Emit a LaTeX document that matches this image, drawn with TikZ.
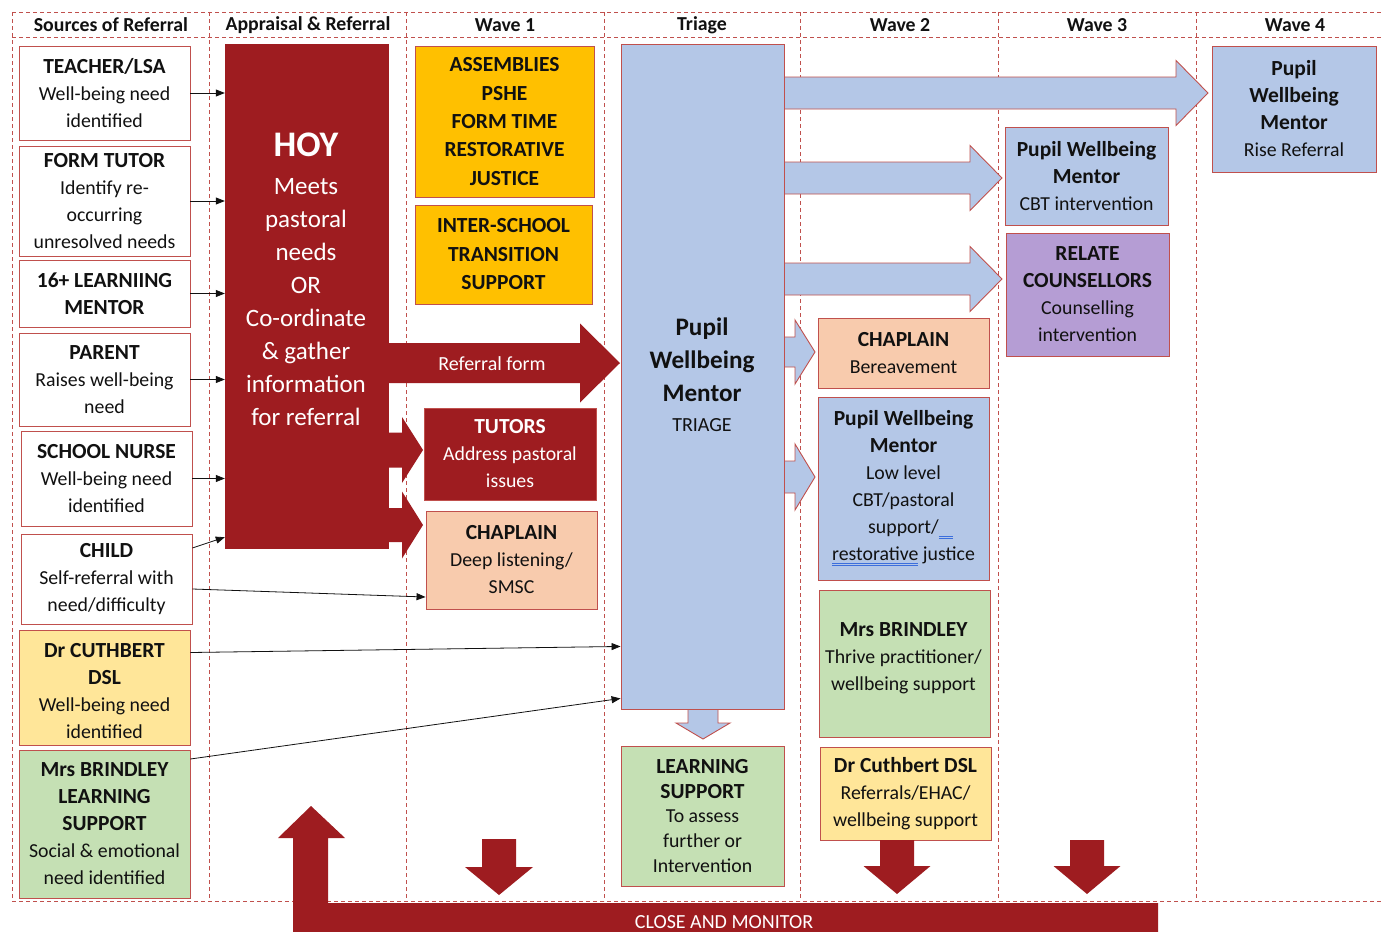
\documentclass[tikz,border=0pt]{standalone}
\usepackage{fontspec}
\setmainfont{Carlito}
\usetikzlibrary{arrows.meta,calc}
\definecolor{hoyred}{RGB}{158,28,32}
\definecolor{bord}{RGB}{192,80,77}
\definecolor{pblue}{RGB}{180,199,231}
\definecolor{peach}{RGB}{248,203,173}
\definecolor{orng}{RGB}{255,192,0}
\definecolor{ylw}{RGB}{255,230,153}
\definecolor{grn}{RGB}{197,224,180}
\definecolor{purp}{RGB}{181,157,212}
\definecolor{ulblue}{RGB}{60,110,220}
\definecolor{ink}{RGB}{17,17,17}
\newlength\dulen
\newcommand\dul[1]{\settowidth\dulen{#1}\rlap{\textcolor{ulblue}{\rule[-2.5pt]{\dulen}{0.7pt}}}\rlap{\textcolor{ulblue}{\rule[-4.7pt]{\dulen}{0.7pt}}}#1}
\newcommand\hb[1]{{\fontsize{21.5}{27}\selectfont\bfseries #1}}
% right block arrow: style, x0, xhead, xtip, yc, body half, head half
\newcommand\rblock[7]{\path[#1] (#2,{#5-#6}) -- (#3,{#5-#6}) -- (#3,{#5-#7}) -- (#4,#5) -- (#3,{#5+#7}) -- (#3,{#5+#6}) -- (#2,{#5+#6});}
% down block arrow: style, xc, ytop, yhead, ytip, body half, head half
\newcommand\dblock[7]{\path[#1] ({#2-#6},#3) -- ({#2-#6},#4) -- ({#2-#7},#4) -- (#2,#5) -- ({#2+#7},#4) -- ({#2+#6},#4) -- ({#2+#6},#3) -- cycle;}
\begin{document}
\begin{tikzpicture}[x=1pt,y=-1pt,
  box/.style={draw=bord, line width=0.9pt, align=center, inner sep=0pt, font=\fontsize{19.8}{27}\selectfont, text=ink},
  txt/.style={align=center, inner sep=0pt, font=\fontsize{19.8}{27}\selectfont, text=ink},
  hdr/.style={font=\fontsize{19.8}{22}\selectfont\bfseries, text=ink, inner sep=0pt},
  dashln/.style={draw=bord, line width=1pt, dash pattern=on 4pt off 3pt},
  conn/.style={draw=ink, line width=0.8pt, -{Triangle[length=9pt,width=7pt]}},
  bluearr/.style={fill=pblue, draw=bord, line width=0.9pt},
  redarr/.style={fill=hoyred}]
\useasboundingbox (0,0) rectangle (1382,932);
\fill[white] (0,0) rectangle (1382,932);

% frame
\draw[dashln] (12,12) -- (1382,12);
\draw[dashln] (12,37) -- (1382,37);
\draw[dashln] (12,901) -- (1382,901);
\foreach \x in {12,209,406,604,800,998,1196} \draw[dashln] (\x,12) -- (\x,901);

% headers
\node[hdr] (h1) at (111,25) {Sources of Referral};
\node[hdr] (h2) at (308,25) {Appraisal \& Referral};
\node[hdr] (h3) at (505,25) {Wave 1};
\node[hdr] (h4) at (702,25) {Triage};
\node[hdr] (h5) at (900,25) {Wave 2};
\node[hdr] (h6) at (1097,25) {Wave 3};
\node[hdr] (h7) at (1295,25) {Wave 4};

% sources
\node[box, fill=white, minimum width=171pt, minimum height=94pt] (teacher) at (104.5,93) {\hb{TEACHER/LSA}\\Well-being need\\identified};
\node[box, fill=white, minimum width=171pt, minimum height=110pt] (formtutor) at (104.5,201) {\hb{FORM TUTOR}\\Identify re-\\occurring\\unresolved needs};
\node[box, fill=white, minimum width=171pt, minimum height=67pt] (lm) at (104.5,293.5) {\hb{16+ LEARNIING}\\\hb{MENTOR}};
\node[box, fill=white, minimum width=171pt, minimum height=93pt] (parent) at (104.5,379.5) {\hb{PARENT}\\Raises well-being\\need};
\node[box, fill=white, minimum width=171pt, minimum height=95pt] (nurse) at (106.5,478.5) {\hb{SCHOOL NURSE}\\Well-being need\\identified};
\node[box, fill=white, minimum width=171pt, minimum height=90pt] (child) at (106.5,579) {\hb{CHILD}\\Self-referral with\\need/difficulty};
\node[box, fill=ylw, minimum width=171pt, minimum height=115pt] (cuth) at (104.5,687.5) {};
\node[txt] (cutht) at (104.5,691) {\hb{Dr CUTHBERT}\\\hb{DSL}\\Well-being need\\identified};
\node[box, fill=grn, minimum width=171pt, minimum height=148pt] (brin) at (104.5,824) {\hb{Mrs BRINDLEY}\\\hb{LEARNING}\\\hb{SUPPORT}\\Social \& emotional\\need identified};

% HOY and its arrows
\node[fill=hoyred, minimum width=164pt, minimum height=505pt, inner sep=0pt] (hoy) at (307,296.5) {};
\node[align=center, text=white, inner sep=0pt, font=\fontsize{25}{33}\selectfont] (hoytext) at (306,279) {{\fontsize{36}{38}\selectfont\bfseries HOY}\\[5pt]Meets\\pastoral\\needs\\OR\\Co-ordinate\\\& gather\\information\\for referral};
\rblock{redarr}{388}{580}{620}{363}{20}{39.5}
\node[text=white, font=\fontsize{20}{22}\selectfont, inner sep=0pt] (reflabel) at (492,364) {Referral form};
\rblock{redarr}{388}{402}{423}{450}{17.5}{33}
\rblock{redarr}{388}{402}{423}{525}{17}{33.5}

% wave 1
\node[box, fill=orng, minimum width=179pt, minimum height=151pt, font=\fontsize{21.5}{28.3}\selectfont\bfseries] (assem) at (504.5,121.5) {ASSEMBLIES\\PSHE\\FORM TIME\\RESTORATIVE\\JUSTICE};
\node[box, fill=orng, minimum width=177pt, minimum height=99pt, font=\fontsize{21.5}{28.5}\selectfont\bfseries] (inter) at (503.5,254.5) {INTER-SCHOOL\\TRANSITION\\SUPPORT};
\node[box, fill=hoyred, text=white, minimum width=172pt, minimum height=92pt] (tutors) at (510,454) {\hb{TUTORS}\\Address pastoral\\issues};
\node[box, fill=peach, minimum width=171pt, minimum height=98pt] (chap1) at (511.5,560) {\hb{CHAPLAIN}\\Deep listening/\\SMSC};

% triage
\rblock{bluearr}{784}{1176}{1208}{93}{16}{32.5}
\rblock{bluearr}{784}{970}{1002}{178}{16}{32.5}
\rblock{bluearr}{784}{970}{1002}{279}{16}{32.5}
\rblock{bluearr}{784}{795}{815}{352}{15}{32}
\rblock{bluearr}{784}{795}{815}{477}{16}{33}
\path[bluearr] (688,709) -- (688,723) -- (676,723) -- (703,739) -- (730,723) -- (718,723) -- (718,709);
\node[box, fill=pblue, minimum width=163pt, minimum height=665pt] (triage) at (702.5,376.5) {};
\node[align=center, text=ink, inner sep=0pt, font=\fontsize{25.2}{33}\selectfont\bfseries] (triagetext) at (702,375) {Pupil\\Wellbeing\\Mentor\\[-3pt]{\fontsize{20}{22}\selectfont\mdseries TRIAGE}};
\node[box, fill=grn, minimum width=163pt, minimum height=140pt, font=\fontsize{19.8}{24.8}\selectfont] (lsup) at (702.5,816) {\hb{LEARNING}\\\hb{SUPPORT}\\To assess\\further or\\Intervention};

% wave 2
\node[box, fill=peach, minimum width=171pt, minimum height=70pt] (chap2) at (903.5,353) {\hb{CHAPLAIN}\\Bereavement};
\node[box, fill=pblue, minimum width=171pt, minimum height=183pt] (pwm2) at (903.5,488.5) {};
\node[txt] (pwm2t) at (903.5,488) {\hb{Pupil Wellbeing}\\\hb{Mentor}\\Low level\\CBT/pastoral\\support/\dul{\hspace{14pt}}\\\dul{restorative} justice};
\node[box, fill=grn, minimum width=171pt, minimum height=147pt] (brin2) at (904.5,663.5) {};
\node[txt] (brin2t) at (903.5,658) {\hb{Mrs BRINDLEY}\\Thrive practitioner/\\wellbeing support};
\node[box, fill=ylw, minimum width=171pt, minimum height=93pt] (cuth2) at (905.5,793.5) {\hb{Dr Cuthbert DSL}\\Referrals/EHAC/\\wellbeing support};

% wave 3 and 4
\node[box, fill=pblue, minimum width=163pt, minimum height=98pt] (pwm3) at (1086.5,176) {\hb{Pupil Wellbeing}\\\hb{Mentor}\\CBT intervention};
\node[box, fill=purp, minimum width=163pt, minimum height=123pt] (relate) at (1087.5,294.5) {\hb{RELATE}\\\hb{COUNSELLORS}\\Counselling\\intervention};
\node[box, fill=pblue, minimum width=164pt, minimum height=126pt] (pwm4) at (1294,109) {\hb{Pupil}\\\hb{Wellbeing}\\\hb{Mentor}\\Rise Referral};

% close and monitor
\dblock{redarr}{499}{839}{867}{895}{17}{34}
\dblock{redarr}{897}{840}{866}{894}{17}{33.5}
\dblock{redarr}{1087}{840}{866}{894}{17}{33.5}
\fill[hoyred] (293,932) -- (293,838) -- (278,838) -- (311,806) -- (345,838) -- (328,838) -- (328,903) -- (1158,903) -- (1158,932) -- cycle;
\node[text=white, font=\fontsize{20}{22}\selectfont, inner sep=0pt] (close) at (724,922) {CLOSE AND MONITOR};

% thin connectors
\draw[conn] (teacher.east) -- (teacher.east -| hoy.west);
\draw[conn] (formtutor.east) -- (formtutor.east -| hoy.west);
\draw[conn] (lm.east) -- (lm.east -| hoy.west);
\draw[conn] (parent.east) -- (parent.east -| hoy.west);
\draw[conn] (nurse.east) -- (nurse.east -| hoy.west);
\draw[conn] ([yshift=31pt]child.east) -- ([yshift=12pt]hoy.south west);
\draw[conn] ([yshift=-10pt]child.east) -- ([yshift=-37pt]chap1.west);
\draw[conn] ([yshift=35pt]cuth.east) -- ([yshift=63pt]triage.south west);
\draw[conn] ([yshift=65pt]brin.east) -- ([yshift=11pt]triage.south west);
\end{tikzpicture}
\end{document}
